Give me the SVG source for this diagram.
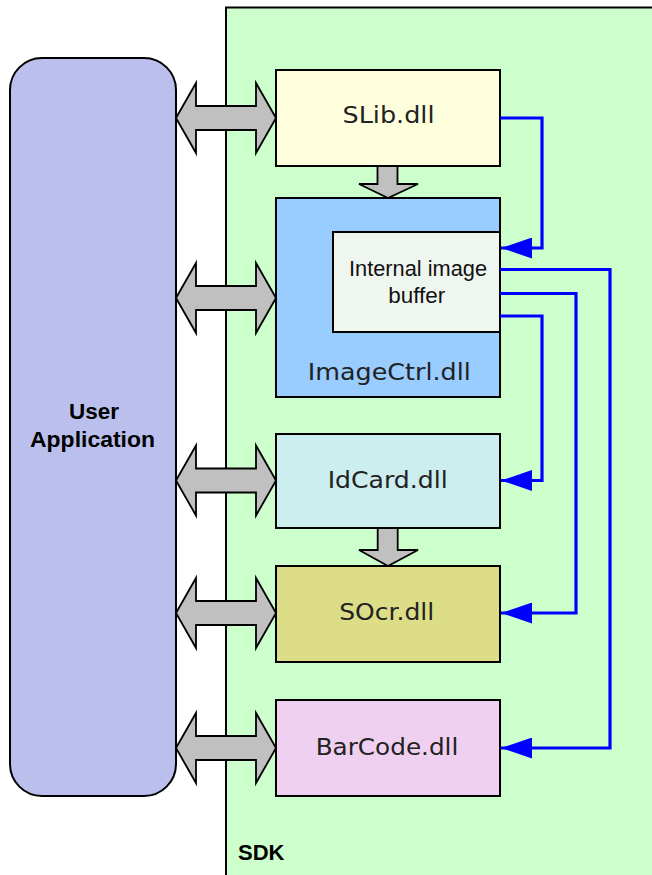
<svg xmlns="http://www.w3.org/2000/svg" xmlns:xlink="http://www.w3.org/1999/xlink" width="652" height="875" viewBox="0 0 652 875">
<style>
.box{stroke:#000;stroke-width:2}
.gray{fill:#C0C0C0;stroke:#000;stroke-width:1.8;stroke-linejoin:miter}
.dll{font-family:"DejaVu Sans",Verdana,sans-serif;font-size:23px;fill:#222;text-anchor:middle}
.lbl{font-family:"Liberation Sans",Arial,sans-serif;font-size:21.5px;fill:#111;text-anchor:middle}
.bold{font-family:"Liberation Sans",Arial,sans-serif;font-weight:bold;font-size:22px;fill:#000;text-anchor:middle}
.conn{fill:none;stroke:#0000FF;stroke-width:3.2;stroke-linejoin:miter}
</style>
<defs>
<polygon id="dbl" points="0,0 20,-35 20,-12 80,-12 80,-35 100,0 80,35 80,12 20,12 20,35"/>
<marker id="ah" markerUnits="userSpaceOnUse" viewBox="0 0 31 21" markerWidth="31" markerHeight="21" refX="31" refY="10.5" orient="auto">
<path d="M0,0 L31,10.5 L0,21 z" fill="#0000FF"/>
</marker>
</defs>
<rect width="652" height="875" fill="#fff"/>
<g id="sdk">
<rect class="box" x="226" y="7.5" width="440" height="880" fill="#CCFFCC"/>
<text class="bold" x="238" y="859.5" style="text-anchor:start;font-size:22px">SDK</text>
</g>
<g id="user-app">
<rect class="box" x="10" y="58" width="166" height="738" rx="32" ry="32" fill="#BBBFEE"/>
<text class="bold" x="94" y="418.5" textLength="50" lengthAdjust="spacingAndGlyphs">User</text>
<text class="bold" x="92.5" y="446.5" textLength="125" lengthAdjust="spacingAndGlyphs">Application</text>
</g>
<g id="slib">
<rect class="box" x="276" y="70" width="224" height="96" fill="#FFFFDD"/>
<text class="dll" x="388.5" y="123" textLength="92" lengthAdjust="spacingAndGlyphs">SLib.dll</text>
</g>
<g id="imagectrl">
<rect class="box" x="276" y="198" width="224" height="199" fill="#99CCFF"/>
<text class="dll" x="389.3" y="380" textLength="163" lengthAdjust="spacingAndGlyphs">ImageCtrl.dll</text>
</g>
<g id="buffer">
<rect class="box" x="333" y="232" width="167" height="100" fill="#EFF6EF"/>
<text class="lbl" x="418" y="276" textLength="138" lengthAdjust="spacingAndGlyphs">Internal image</text>
<text class="lbl" x="416.7" y="302.7" textLength="57" lengthAdjust="spacingAndGlyphs">buffer</text>
</g>
<g id="idcard">
<rect class="box" x="276" y="434" width="224" height="94" fill="#CCEEEE"/>
<text class="dll" x="387.7" y="487.7" textLength="120" lengthAdjust="spacingAndGlyphs">IdCard.dll</text>
</g>
<g id="socr">
<rect class="box" x="276" y="566" width="224" height="96" fill="#DDDD88"/>
<text class="dll" x="386.7" y="620" textLength="95" lengthAdjust="spacingAndGlyphs">SOcr.dll</text>
</g>
<g id="barcode">
<rect class="box" x="276" y="700" width="224" height="96" fill="#F0D0F0"/>
<text class="dll" x="387" y="755" textLength="142.7" lengthAdjust="spacingAndGlyphs">BarCode.dll</text>
</g>
<g id="connectors">
<use xlink:href="#dbl" href="#dbl" class="gray" x="176" y="118"/>
<use xlink:href="#dbl" href="#dbl" class="gray" x="176" y="298"/>
<use xlink:href="#dbl" href="#dbl" class="gray" x="176" y="480.5"/>
<use xlink:href="#dbl" href="#dbl" class="gray" x="176" y="613"/>
<use xlink:href="#dbl" href="#dbl" class="gray" x="176" y="748"/>
<polygon class="gray" points="377.5,166 397.5,166 397.5,184 418,184 388,198 359,184 377.5,184"/>
<polygon class="gray" points="377.7,528 397.7,528 397.7,550 418,550 388,566 359,550 377.7,550"/>
<polyline class="conn" points="500,118 542,118 542,248 501,248" marker-end="url(#ah)"/>
<polyline class="conn" points="500,269.5 610,269.5 610,748 501,748" marker-end="url(#ah)"/>
<polyline class="conn" points="500,293.5 576,293.5 576,613 501,613" marker-end="url(#ah)"/>
<polyline class="conn" points="500,316 542,316 542,480.5 501,480.5" marker-end="url(#ah)"/>
</g>
</svg>
